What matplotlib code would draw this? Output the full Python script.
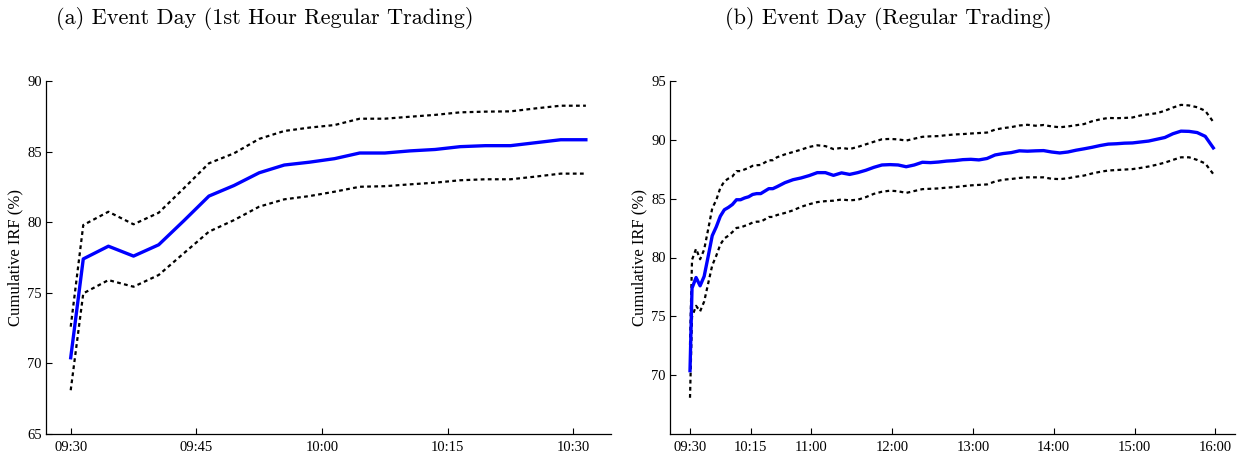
import matplotlib
matplotlib.use("Agg")
import matplotlib.pyplot as plt

# ---------------- data ----------------
# minutes after 09:30
minutes_a = [0, 1.5, 4.5, 7.5, 10.5, 13.5, 16.5, 19.5, 22.5, 25.5, 28.5,
             31.5, 34.5, 37.5, 40.5, 43.5, 46.5, 49.5, 52.5, 55.5, 58.5, 61.5]
irf_a = [70.4, 77.4, 78.3, 77.6, 78.4, 80.1, 81.85, 82.6, 83.5, 84.05, 84.25,
         84.5, 84.9, 84.9, 85.05, 85.15, 85.35, 85.42, 85.42, 85.63, 85.84, 85.84]
upper_a = [72.6, 79.8, 80.74, 79.85, 80.67, 82.4, 84.17, 84.88, 85.9, 86.46, 86.7,
           86.88, 87.33, 87.33, 87.47, 87.6, 87.78, 87.83, 87.85, 88.06, 88.25, 88.25]
lower_a = [68.1, 74.96, 75.9, 75.43, 76.26, 77.8, 79.33, 80.15, 81.1, 81.62, 81.85,
           82.16, 82.51, 82.55, 82.68, 82.8, 82.97, 83.04, 83.04, 83.23, 83.44, 83.44]

# rest of the day (after the first hour)
minutes_rest = [64.5, 70.5, 76.5, 82.5, 88.5, 94.5, 100.5, 106.5, 112.5, 118.5,
                124.5, 130.5, 136.5, 142.5, 148.5, 154.5, 160.5, 166.5, 172.5, 178.5,
                184.5, 190.5, 196.5, 202.5, 208.5, 214.5, 220.5, 226.5, 232.5, 238.5,
                244.5, 250.5, 256.5, 262.5, 268.5, 274.5, 280.5, 286.5, 292.5, 298.5,
                304.5, 310.5, 316.5, 322.5, 328.5, 334.5, 340.5, 346.5, 352.5, 358.5,
                364.5, 370.5, 376.5, 382.5, 388.5]
irf_rest = [86.0, 86.35, 86.6, 86.75, 86.95, 87.2, 87.2, 86.97, 87.18, 87.05,
            87.2, 87.4, 87.65, 87.85, 87.88, 87.85, 87.7, 87.85, 88.08, 88.05,
            88.1, 88.18, 88.22, 88.3, 88.33, 88.28, 88.4, 88.7, 88.82, 88.9,
            89.05, 89.02, 89.05, 89.07, 88.95, 88.87, 88.95, 89.1, 89.22, 89.35,
            89.5, 89.62, 89.65, 89.7, 89.72, 89.8, 89.88, 90.03, 90.18, 90.5,
            90.72, 90.7, 90.6, 90.28, 89.3]
upper_rest = [88.5, 88.75, 88.95, 89.15, 89.38, 89.52, 89.45, 89.2, 89.3, 89.2,
              89.38, 89.6, 89.82, 90.03, 90.06, 90.02, 89.92, 90.08, 90.24, 90.28,
              90.3, 90.38, 90.44, 90.47, 90.52, 90.56, 90.6, 90.85, 90.98, 91.06,
              91.2, 91.26, 91.18, 91.24, 91.12, 91.05, 91.12, 91.22, 91.32, 91.56,
              91.72, 91.84, 91.82, 91.84, 91.88, 92.05, 92.15, 92.24, 92.45, 92.72,
              92.95, 92.9, 92.75, 92.45, 91.5]
lower_rest = [83.6, 83.78, 84.0, 84.3, 84.52, 84.7, 84.78, 84.82, 84.92, 84.85,
              84.9, 85.12, 85.4, 85.58, 85.67, 85.62, 85.48, 85.64, 85.8, 85.83,
              85.86, 85.93, 85.97, 86.05, 86.12, 86.16, 86.2, 86.45, 86.6, 86.66,
              86.75, 86.8, 86.8, 86.8, 86.68, 86.65, 86.72, 86.85, 86.95, 87.13,
              87.27, 87.38, 87.42, 87.46, 87.5, 87.6, 87.72, 87.87, 88.05, 88.28,
              88.5, 88.5, 88.28, 87.98, 87.08]

minutes_b = minutes_a + minutes_rest
irf_b = irf_a + irf_rest
upper_b = upper_a + upper_rest
lower_b = lower_a + lower_rest

xticks_a = [0, 15, 30, 45, 60]
xticklabels_a = ["09:30", "09:45", "10:00", "10:15", "10:30"]
xticks_b = [0, 45, 90, 150, 210, 270, 330, 390]
xticklabels_b = ["09:30", "10:15", "11:00", "12:00", "13:00", "14:00", "15:00", "16:00"]
yticks_a = [65, 70, 75, 80, 85, 90]
yticks_b = [70, 75, 80, 85, 90, 95]

title_a = "(a) Event Day (1st Hour Regular Trading)"
title_b = "(b) Event Day (Regular Trading)"
ylabel = "Cumulative IRF (%)"

# ---------------- figure ----------------
W, H = 1239, 453
fig = plt.figure(figsize=(W / 100, H / 100), dpi=100)

tick_font = "Liberation Serif"


def px_axes(l, r, t, b):
    return fig.add_axes([l / W, 1 - b / H, (r - l) / W, (b - t) / H])


ax_a = px_axes(46, 611, 81, 434)
ax_b = px_axes(670, 1235, 80.7, 434.3)

for ax, x, y, up, lo in [(ax_a, minutes_a, irf_a, upper_a, lower_a),
                         (ax_b, minutes_b, irf_b, upper_b, lower_b)]:
    ax.plot(x, up, color="black", lw=1.6, linestyle=(0, (1.7, 1.5)))
    ax.plot(x, lo, color="black", lw=1.6, linestyle=(0, (1.7, 1.5)))
    ax.plot(x, y, color="#0000ff", lw=2.4)
    for s in ["top", "right"]:
        ax.spines[s].set_visible(False)
    for s in ["left", "bottom"]:
        ax.spines[s].set_linewidth(0.9)
    ax.tick_params(direction="in", length=4, width=0.8, top=False, right=False,
                   labelsize=10.5, pad=3)
    ax.tick_params(axis="x", pad=5)
    ax.set_ylabel(ylabel, fontsize=12, family=tick_font, labelpad=3)

ax_a.set_xlim(-2.95, 64.5)
ax_a.set_ylim(65, 90)
ax_a.set_xticks(xticks_a)
ax_a.set_xticklabels(xticklabels_a, family=tick_font)
ax_a.set_yticks(yticks_a)
ax_a.set_yticklabels([str(v) for v in yticks_a], family=tick_font)

ax_b.set_xlim(-14.85, 404.6)
ax_b.set_ylim(65, 95)
ax_b.set_xticks(xticks_b)
ax_b.set_xticklabels(xticklabels_b, family=tick_font)
ax_b.set_yticks(yticks_b)
ax_b.set_yticklabels([str(v) for v in yticks_b], family=tick_font)

fig.text(264.5 / W, 1 - 18 / H, title_a, ha="center", va="center",
         fontsize=16, family="cmr10")
fig.text(888 / W, 1 - 18 / H, title_b, ha="center", va="center",
         fontsize=16, family="cmr10")

fig.savefig("out.png", dpi=100)
